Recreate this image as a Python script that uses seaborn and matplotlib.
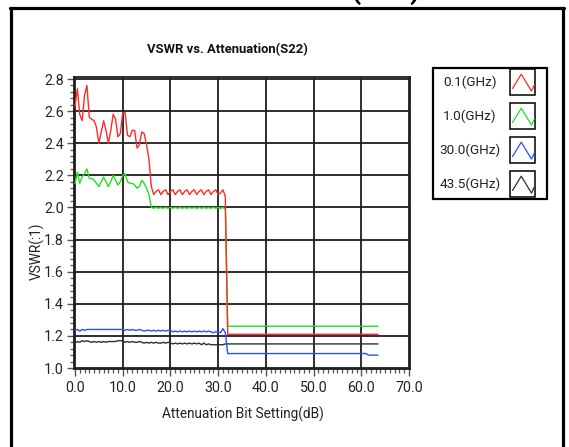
import numpy as np
import pandas as pd
import matplotlib
matplotlib.use("Agg")
import matplotlib.pyplot as plt
import seaborn as sns
from matplotlib.ticker import MultipleLocator, FixedLocator, FixedFormatter
from matplotlib.lines import Line2D
from matplotlib.patches import Rectangle

# ---------------- data ----------------
ATTEN_DB = np.arange(0, 64, 0.5)  # attenuation bit settings (dB)

SERIES_NAMES = ["0.1(GHz)", "1.0(GHz)", "30.0(GHz)", "43.5(GHz)"]
SERIES_COLORS = ["#ff2a2a", "#22e022", "#2a50ff", "#303030"]

VSWR_0P1 = [
    2.63, 2.74, 2.58, 2.54, 2.70, 2.76, 2.56, 2.55, 2.54, 2.50, 2.40, 2.47, 2.54, 2.48, 2.40, 2.48,
    2.58, 2.55, 2.44, 2.46, 2.59, 2.59, 2.45, 2.44, 2.48, 2.48, 2.37, 2.39, 2.47, 2.46, 2.39, 2.30,
    2.13, 2.08, 2.10, 2.11, 2.08, 2.10, 2.11, 2.08, 2.10, 2.11, 2.08, 2.10, 2.11, 2.08, 2.10, 2.11,
    2.08, 2.10, 2.11, 2.08, 2.10, 2.11, 2.08, 2.10, 2.11, 2.08, 2.10, 2.11, 2.08, 2.09, 2.11, 2.07,
    1.21, 1.21, 1.21, 1.21, 1.21, 1.21, 1.21, 1.21, 1.21, 1.21, 1.21, 1.21, 1.21, 1.21, 1.21, 1.21,
    1.21, 1.21, 1.21, 1.21, 1.21, 1.21, 1.21, 1.21, 1.21, 1.21, 1.21, 1.21, 1.21, 1.21, 1.21, 1.21,
    1.21, 1.21, 1.21, 1.21, 1.21, 1.21, 1.21, 1.21, 1.21, 1.21, 1.21, 1.21, 1.21, 1.21, 1.21, 1.21,
    1.21, 1.21, 1.21, 1.21, 1.21, 1.21, 1.21, 1.21, 1.21, 1.21, 1.21, 1.21, 1.21, 1.21, 1.21, 1.21,
]
VSWR_1P0 = [
    2.15, 2.22, 2.15, 2.19, 2.21, 2.24, 2.18, 2.18, 2.17, 2.15, 2.13, 2.16, 2.19, 2.16, 2.13, 2.16,
    2.20, 2.17, 2.14, 2.16, 2.20, 2.21, 2.16, 2.15, 2.15, 2.14, 2.12, 2.13, 2.17, 2.15, 2.12, 2.08,
    2.00, 1.995, 2.00, 1.995, 2.00, 1.995, 2.00, 1.995, 2.00, 1.995, 2.00, 1.995, 2.00, 1.995, 2.00, 1.995,
    2.00, 1.995, 2.00, 1.995, 2.00, 1.995, 2.00, 1.995, 2.00, 1.995, 2.00, 1.995, 2.00, 1.995, 2.00, 1.99,
    1.26, 1.26, 1.26, 1.26, 1.26, 1.26, 1.26, 1.26, 1.26, 1.26, 1.26, 1.26, 1.26, 1.26, 1.26, 1.26,
    1.26, 1.26, 1.26, 1.26, 1.26, 1.26, 1.26, 1.26, 1.26, 1.26, 1.26, 1.26, 1.26, 1.26, 1.26, 1.26,
    1.26, 1.26, 1.26, 1.26, 1.26, 1.26, 1.26, 1.26, 1.26, 1.26, 1.26, 1.26, 1.26, 1.26, 1.26, 1.26,
    1.26, 1.26, 1.26, 1.26, 1.26, 1.26, 1.26, 1.26, 1.26, 1.26, 1.26, 1.26, 1.26, 1.26, 1.26, 1.26,
]
VSWR_30P0 = [
    1.235, 1.24, 1.23, 1.24, 1.235, 1.24, 1.24, 1.24, 1.24, 1.24, 1.24, 1.24, 1.24, 1.24, 1.24, 1.24,
    1.24, 1.24, 1.24, 1.24, 1.24, 1.235, 1.24, 1.235, 1.24, 1.235, 1.235, 1.24, 1.235, 1.23, 1.235, 1.235,
    1.23, 1.235, 1.23, 1.235, 1.23, 1.235, 1.23, 1.235, 1.235, 1.225, 1.23, 1.225, 1.23, 1.225, 1.23, 1.225,
    1.23, 1.225, 1.23, 1.225, 1.23, 1.225, 1.23, 1.225, 1.23, 1.225, 1.22, 1.225, 1.225, 1.22, 1.245, 1.22,
    1.09, 1.09, 1.09, 1.09, 1.09, 1.09, 1.09, 1.09, 1.09, 1.09, 1.09, 1.09, 1.09, 1.09, 1.09, 1.09,
    1.09, 1.09, 1.09, 1.09, 1.09, 1.09, 1.09, 1.09, 1.09, 1.09, 1.09, 1.09, 1.09, 1.09, 1.09, 1.09,
    1.09, 1.09, 1.09, 1.09, 1.09, 1.09, 1.09, 1.09, 1.09, 1.09, 1.09, 1.09, 1.09, 1.09, 1.09, 1.09,
    1.09, 1.09, 1.09, 1.09, 1.09, 1.09, 1.09, 1.09, 1.09, 1.09, 1.09, 1.08, 1.08, 1.08, 1.08, 1.08,
]
VSWR_43P5 = [
    1.155, 1.165, 1.16, 1.17, 1.165, 1.17, 1.165, 1.16, 1.165, 1.16, 1.165, 1.16, 1.165, 1.16, 1.165, 1.165,
    1.165, 1.165, 1.17, 1.17, 1.17, 1.16, 1.165, 1.16, 1.165, 1.16, 1.16, 1.165, 1.16, 1.155, 1.16, 1.155,
    1.16, 1.155, 1.16, 1.155, 1.155, 1.16, 1.155, 1.16, 1.155, 1.15, 1.155, 1.15, 1.155, 1.15, 1.155, 1.15,
    1.155, 1.15, 1.155, 1.15, 1.155, 1.145, 1.155, 1.145, 1.15, 1.145, 1.145, 1.145, 1.145, 1.145, 1.145, 1.15,
    1.15, 1.15, 1.15, 1.15, 1.15, 1.15, 1.15, 1.15, 1.15, 1.15, 1.15, 1.15, 1.15, 1.15, 1.15, 1.15,
    1.15, 1.15, 1.15, 1.15, 1.15, 1.15, 1.15, 1.15, 1.15, 1.15, 1.15, 1.15, 1.15, 1.15, 1.15, 1.15,
    1.15, 1.15, 1.15, 1.15, 1.15, 1.15, 1.15, 1.15, 1.15, 1.15, 1.15, 1.15, 1.15, 1.15, 1.15, 1.15,
    1.15, 1.15, 1.15, 1.15, 1.15, 1.15, 1.15, 1.15, 1.15, 1.15, 1.15, 1.15, 1.15, 1.15, 1.15, 1.15,
]

X_TICKS = [0, 10, 20, 30, 40, 50, 60, 70]
X_TICK_LABELS = ["0.0", "10.0", "20.0", "30.0", "40.0", "50.0", "60.0", "70.0"]
Y_TICKS = [1.0, 1.2, 1.4, 1.6, 1.8, 2.0, 2.2, 2.4, 2.6, 2.8]
Y_TICK_LABELS = ["1.0", "1.2", "1.4", "1.6", "1.8", "2.0", "2.2", "2.4", "2.6", "2.8"]

TITLE = "VSWR vs. Attenuation(S22)"
X_LABEL = "Attenuation Bit Setting(dB)"
Y_LABEL = "VSWR(:1)"

# ---------------- style ----------------
sns.set_style("white")
plt.rcParams["font.family"] = ["Roboto", "DejaVu Sans"]
FS_TICK, FS_LAB, FS_TITLE, FS_LEG = 10.3, 9.8, 9.4, 9.7

W, H = 569, 447
fig = plt.figure(figsize=(W / 100, H / 100), dpi=100)
fig.patch.set_facecolor("white")


def px_axes(l, t, r, b):
    return fig.add_axes([l / W, 1 - b / H, (r - l) / W, (b - t) / H])


def fx(p):
    return p / W


def fy(p):
    return 1 - p / H


ax = px_axes(73.5, 77, 409.5, 368.5)

all_vals = [VSWR_0P1, VSWR_1P0, VSWR_30P0, VSWR_43P5]
df = pd.DataFrame({
    "atten": np.tile(ATTEN_DB, len(SERIES_NAMES)),
    "vswr": np.concatenate([np.asarray(v, dtype=float) for v in all_vals]),
    "series": np.repeat(SERIES_NAMES, len(ATTEN_DB)),
})

# draw back-to-front: black, blue, green, red
for idx in [3, 2, 1, 0]:
    sub = df[df["series"] == SERIES_NAMES[idx]]
    sns.lineplot(data=sub, x="atten", y="vswr", color=SERIES_COLORS[idx],
                 linewidth=1.0, estimator=None, sort=False, legend=False,
                 ax=ax, zorder=3 + (3 - idx))

ax.set_xlim(-0.314, 70.105)
ax.set_ylim(0.9969, 2.8125)
ax.xaxis.set_major_locator(FixedLocator(X_TICKS))
ax.xaxis.set_major_formatter(FixedFormatter(X_TICK_LABELS))
ax.xaxis.set_minor_locator(MultipleLocator(1))
ax.yaxis.set_major_locator(FixedLocator(Y_TICKS))
ax.yaxis.set_major_formatter(FixedFormatter(Y_TICK_LABELS))
ax.yaxis.set_minor_locator(MultipleLocator(0.04))
ax.set_xlabel("")
ax.set_ylabel("")

ax.grid(True, which="major", color="#1e1e1e", linewidth=1.3)
ax.set_axisbelow(True)
for s in ax.spines.values():
    s.set_visible(True)
    s.set_color("#1e1e1e")
    s.set_linewidth(1.3)

ax.tick_params(axis="both", which="major", direction="out", length=5, width=1.0,
               color="#555555", labelsize=FS_TICK, labelcolor="#222222", pad=2,
               bottom=True, left=True)
ax.tick_params(axis="both", which="minor", direction="out", length=3, width=0.9,
               color="#555555", bottom=True, left=True)
ax.tick_params(axis="x", which="major", pad=4)

# titles and labels
fig.text(fx(227), fy(50), TITLE, ha="center", va="center", fontsize=FS_TITLE,
         fontweight="bold", color="#111111")
fig.text(fx(242.5), fy(414), X_LABEL, ha="center", va="center", fontsize=FS_LAB,
         color="#222222")
fig.text(fx(37), fy(251), Y_LABEL, ha="center", va="center", fontsize=FS_LAB,
         rotation=90, color="#222222")

# cut-off large heading above the frame
fig.text(fx(420), fy(-1.0), TITLE, ha="right", va="baseline", fontsize=20,
         fontweight="bold", color="black")

# ---------------- legend ----------------
lax = px_axes(432, 67, 548, 200)
lax.set_xlim(432, 548)
lax.set_ylim(200, 67)
lax.axis("off")
lax.add_patch(Rectangle((433, 68), 114, 131, fill=False, edgecolor="black",
                        linewidth=1.6, clip_on=False))
row_h = 34
for i, (name, col) in enumerate(zip(SERIES_NAMES, SERIES_COLORS)):
    cy = 82 + row_h * i
    lax.text(470, cy, name, ha="center", va="center", fontsize=FS_LEG, color="#222222")
    bx, by, bw, bh = 510, cy - 13, 25, 26
    lax.add_patch(Rectangle((bx, by), bw, bh, fill=False, edgecolor="black",
                            linewidth=1.1, clip_on=False))
    zx = [bx + 0.1 * bw, bx + 0.45 * bw, bx + 0.86 * bw, bx + 0.97 * bw]
    zy = [by + 0.75 * bh, by + 0.2 * bh, by + 0.85 * bh, by + 0.62 * bh]
    lax.plot(zx, zy, color=col, linewidth=0.9, clip_on=False)

# outer frame (left, top, right)
fig.add_artist(Line2D([fx(10.5), fx(10.5)], [0, fy(7.5)], color="black",
                      linewidth=2.3, transform=fig.transFigure))
fig.add_artist(Line2D([fx(9.5), fx(563.5)], [fy(7.5), fy(7.5)], color="black",
                      linewidth=2.3, transform=fig.transFigure))
fig.add_artist(Line2D([fx(562.5), fx(562.5)], [0, fy(7.5)], color="black",
                      linewidth=2.3, transform=fig.transFigure))

fig.savefig("out.png", dpi=100)
